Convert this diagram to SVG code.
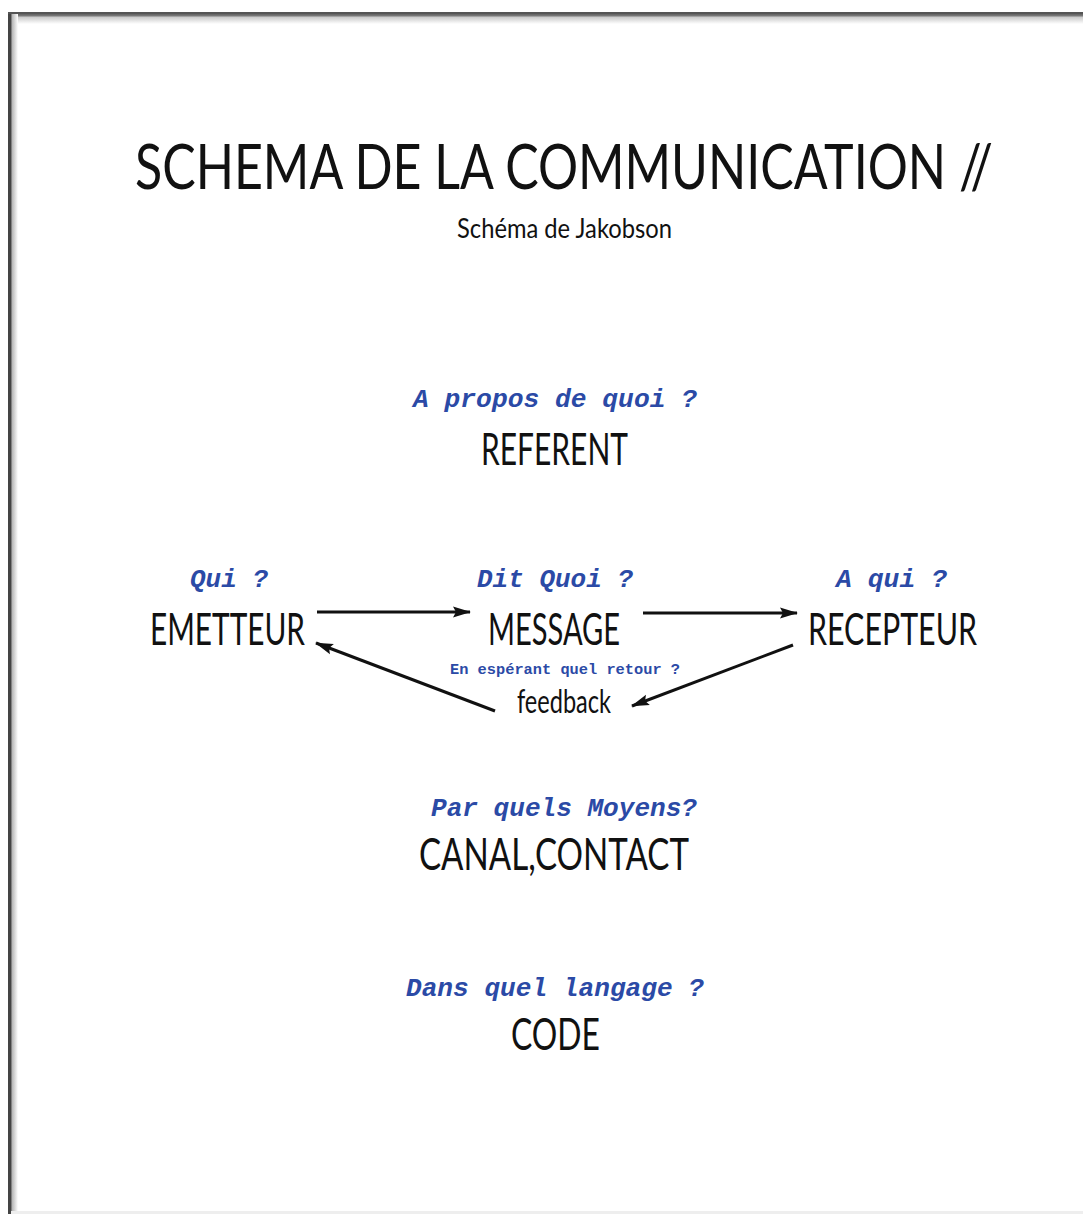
<svg xmlns="http://www.w3.org/2000/svg" width="1083" height="1214" viewBox="0 0 1083 1214">
<style>
.q{font-family:"Liberation Mono","Courier New",monospace;font-weight:bold;font-style:italic;fill:#2b4aa6;font-size:26px;text-anchor:start}
.s{font-family:"Liberation Mono","Courier New",monospace;font-weight:bold;fill:#2b4aa6;font-size:15px;text-anchor:start}
.b{font-family:Lato,"Liberation Sans",sans-serif;fill:#111;text-anchor:start}
.c{stroke:#111;stroke-width:3;fill:none;marker-end:url(#ah)}
</style>
<defs>
<marker id="ah" markerWidth="20" markerHeight="14" refX="17" refY="7" orient="auto" markerUnits="userSpaceOnUse">
<path d="M0,1.5 L18,7 L0,12.5 L3,7 Z" fill="#111"/>
</marker>
<linearGradient id="gl" x1="0" y1="0" x2="1" y2="0">
<stop offset="0" stop-color="#444"/><stop offset="0.3" stop-color="#666"/><stop offset="0.45" stop-color="#bbb"/><stop offset="1" stop-color="#fff"/>
</linearGradient>
<linearGradient id="gt" x1="0" y1="0" x2="0" y2="1">
<stop offset="0" stop-color="#444"/><stop offset="0.3" stop-color="#777"/><stop offset="0.45" stop-color="#ccc"/><stop offset="1" stop-color="#fff"/>
</linearGradient>
</defs>
<rect width="1083" height="1214" fill="#fff"/>
<g id="frame">
<rect x="8" y="12" width="1075" height="12" fill="url(#gt)"/>
<rect x="8" y="12" width="10" height="1202" fill="url(#gl)"/>
<rect x="8" y="12" width="3" height="1202" fill="#444"/>
<rect x="8" y="12" width="1075" height="2" fill="#555"/>
<rect x="11" y="1211" width="1072" height="3" fill="#eee"/>
</g>
<g id="title">
<text class="b" x="135" y="189" font-size="62" textLength="858" lengthAdjust="spacingAndGlyphs">SCHEMA DE LA COMMUNICATION //</text>
<text class="b" x="457" y="238" font-size="27" textLength="215" lengthAdjust="spacingAndGlyphs">Schéma de Jakobson</text>
</g>
<g id="referent">
<text class="q" x="413" y="407" textLength="284" lengthAdjust="spacingAndGlyphs">A propos de quoi ?</text>
<text class="b" x="481" y="465" font-size="45" textLength="147" lengthAdjust="spacingAndGlyphs">REFERENT</text>
</g>
<g id="emetteur">
<text class="q" x="190" y="587" textLength="78" lengthAdjust="spacingAndGlyphs">Qui ?</text>
<text class="b" x="150" y="645" font-size="45" textLength="155" lengthAdjust="spacingAndGlyphs">EMETTEUR</text>
</g>
<g id="message">
<text class="q" x="477" y="587" textLength="156" lengthAdjust="spacingAndGlyphs">Dit Quoi ?</text>
<text class="b" x="488" y="645" font-size="45" textLength="132" lengthAdjust="spacingAndGlyphs">MESSAGE</text>
</g>
<g id="recepteur">
<text class="q" x="836" y="587" textLength="111" lengthAdjust="spacingAndGlyphs">A qui ?</text>
<text class="b" x="808" y="645" font-size="45" textLength="169" lengthAdjust="spacingAndGlyphs">RECEPTEUR</text>
</g>
<g id="feedback">
<text class="s" x="450" y="674" textLength="230" lengthAdjust="spacingAndGlyphs">En espérant quel retour ?</text>
<text class="b" x="517" y="713" font-size="33" textLength="94" lengthAdjust="spacingAndGlyphs">feedback</text>
</g>
<g id="canal">
<text class="q" x="431" y="816" textLength="266" lengthAdjust="spacingAndGlyphs">Par quels Moyens?</text>
<text class="b" x="419" y="870" font-size="45" textLength="270" lengthAdjust="spacingAndGlyphs">CANAL,CONTACT</text>
</g>
<g id="code">
<text class="q" x="406" y="996" textLength="298" lengthAdjust="spacingAndGlyphs">Dans quel langage ?</text>
<text class="b" x="511" y="1050" font-size="45" textLength="89" lengthAdjust="spacingAndGlyphs">CODE</text>
</g>
<g id="connectors">
<line class="c" x1="317" y1="612" x2="470" y2="612"/>
<line class="c" x1="643" y1="613" x2="797" y2="613"/>
<line class="c" x1="793" y1="645" x2="632" y2="706"/>
<line class="c" x1="495" y1="711" x2="316" y2="643"/>
</g>
</svg>
